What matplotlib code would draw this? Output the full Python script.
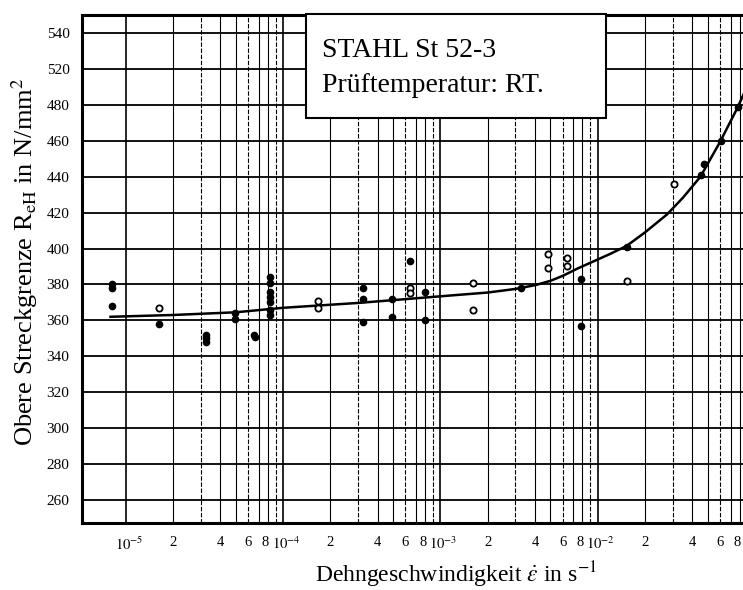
import numpy as np
import matplotlib.pyplot as plt
import matplotlib.transforms as mtransforms
from matplotlib.ticker import FixedLocator, FixedFormatter, NullLocator

plt.rcParams["font.family"] = ["Liberation Serif", "DejaVu Serif"]
plt.rcParams["mathtext.fontset"] = "stix"

# measured yield strength, filled symbols
x_filled = [8.15e-6, 8.15e-6, 8.15e-6, 1.62e-5, 3.26e-5, 3.26e-5, 3.26e-5,
            4.97e-5, 4.97e-5, 6.65e-5, 6.5e-5,
            8.27e-5, 8.27e-5, 8.27e-5, 8.27e-5, 8.27e-5, 8.27e-5, 8.27e-5,
            3.21e-4, 3.21e-4, 3.21e-4, 4.9e-4, 4.9e-4, 6.37e-4, 8.04e-4, 8.04e-4,
            3.26e-3, 7.8e-3, 7.8e-3, 1.53e-2, 4.55e-2, 4.74e-2, 6.09e-2, 7.8e-2]
y_filled = [380, 378, 368, 358, 352, 350, 348,
            364, 361, 351, 352,
            384, 381, 376, 373, 370, 366, 363,
            378, 372, 359, 372, 362, 393, 376, 360,
            378, 383, 357, 401, 441, 447, 460, 479]

# open symbols
x_open = [1.62e-5, 1.67e-4, 1.67e-4, 6.37e-4, 6.37e-4, 1.62e-3, 1.62e-3,
          4.83e-3, 4.83e-3, 6.37e-3, 6.37e-3, 1.53e-2, 3.07e-2]
y_open = [367, 371, 367, 378, 375, 381, 366,
          397, 389, 395, 390, 382, 436]

# fitted curve
x_fit = [8.0e-6, 2e-5, 5e-5, 1e-4, 3e-4, 1e-3, 2e-3, 3e-3, 4e-3, 5e-3, 6e-3,
         7.5e-3, 1.2e-2, 1.53e-2, 2e-2, 2.76e-2, 3.5e-2, 4.5e-2, 6e-2, 7.7e-2, 9e-2]
y_fit = [362, 363, 364.5, 367, 369.7, 373.4, 375.5, 377.5, 379.6, 382, 384.8,
         389, 397, 401.5, 409, 419, 428.5, 440, 459.4, 478, 491]

y_ticks = [260, 280, 300, 320, 340, 360, 380, 400, 420, 440, 460, 480, 500, 520]
y_ticklabels = ["260", "280", "300", "320", "340", "360", "380", "400",
                "420", "440", "460", "480", "520", "540"]

fig = plt.figure(figsize=(7.43, 5.90), dpi=100)
ax = fig.add_axes([82 / 743, 67 / 590, 673 / 743, 508 / 590])
ax.set_xscale("log")
ax.set_xlim(5.27e-6, 1e-1)
ax.set_ylim(247.2, 530)

# horizontal grid
for yv in y_ticks:
    ax.axhline(yv, color="black", lw=1.3, zorder=1)

# vertical grid, one line per mantissa in each decade
for dec in (-5, -4, -3, -2):
    for m in range(1, 10):
        xv = m * 10.0 ** dec
        if m == 1:
            ax.axvline(xv, color="black", lw=1.2, zorder=1)
        elif m in (2, 4, 5, 7, 8):
            ax.axvline(xv, color="black", lw=0.8, zorder=1)
        else:
            ax.axvline(xv, color="black", lw=0.8, ls=(0, (4, 1.5)), zorder=1)

ax.plot(x_fit, y_fit, color="black", lw=1.8, zorder=3)
ax.plot(x_filled, y_filled, "o", color="black", ms=4.5, zorder=4)
ax.plot(x_open, y_open, "o", mfc="white", mec="black", mew=1.3, ms=4.5, zorder=4)

# x tick labels: decades plus 2, 4, 6, 8
xt, xl = [], []
for dec in (-5, -4, -3, -2):
    xt.append(10.0 ** dec)
    xl.append(r"$10^{%d}$" % dec)
    for m in (2, 4, 6, 8):
        xt.append(m * 10.0 ** dec)
        xl.append(str(m))
ax.xaxis.set_major_locator(FixedLocator(xt))
ax.xaxis.set_major_formatter(FixedFormatter(xl))
ax.xaxis.set_minor_locator(NullLocator())
ax.set_yticks(y_ticks)
ax.set_yticklabels(y_ticklabels)
ax.tick_params(axis="both", length=0, labelsize=11)
ax.tick_params(axis="x", pad=9, labelsize=10.5)
ax.tick_params(axis="y", pad=9)

# nudge the "8" and decade labels apart so they only just touch
for lab in ax.get_xticklabels():
    txt = lab.get_text()
    if txt == "8":
        dx = -2.5
    elif txt.startswith("$10"):
        dx = 3
    else:
        continue
    lab.set_transform(lab.get_transform() +
                      mtransforms.ScaledTranslation(dx / 100, 0, fig.dpi_scale_trans))

for s in ax.spines.values():
    s.set_linewidth(2.2)
    s.set_color("black")

# title box in the upper middle
box = plt.Rectangle((306 / 743, (590 - 118) / 590), 300 / 743, 104 / 590,
                    transform=fig.transFigure, facecolor="white",
                    edgecolor="black", lw=1.5, zorder=5)
fig.add_artist(box)
fig.text(322 / 743, 1 - 57 / 590, "STAHL St 52-3", fontsize=20,
         va="baseline", ha="left", zorder=6)
fig.text(322 / 743, 1 - 92 / 590, "Prüftemperatur: RT.", fontsize=20,
         va="baseline", ha="left", zorder=6)

fig.text(25 / 743, 1 - 262 / 590,
         r"Obere Streckgrenze R$_{\mathrm{eH}}$ in N/mm$^2$",
         rotation=90, fontsize=19, ha="center", va="center")
fig.text(456 / 743, 1 - 575 / 590,
         r"Dehngeschwindigkeit $\dot{\varepsilon}$ in s$^{-1}$",
         fontsize=17, ha="center", va="center")

fig.savefig("out.png", dpi=100)
